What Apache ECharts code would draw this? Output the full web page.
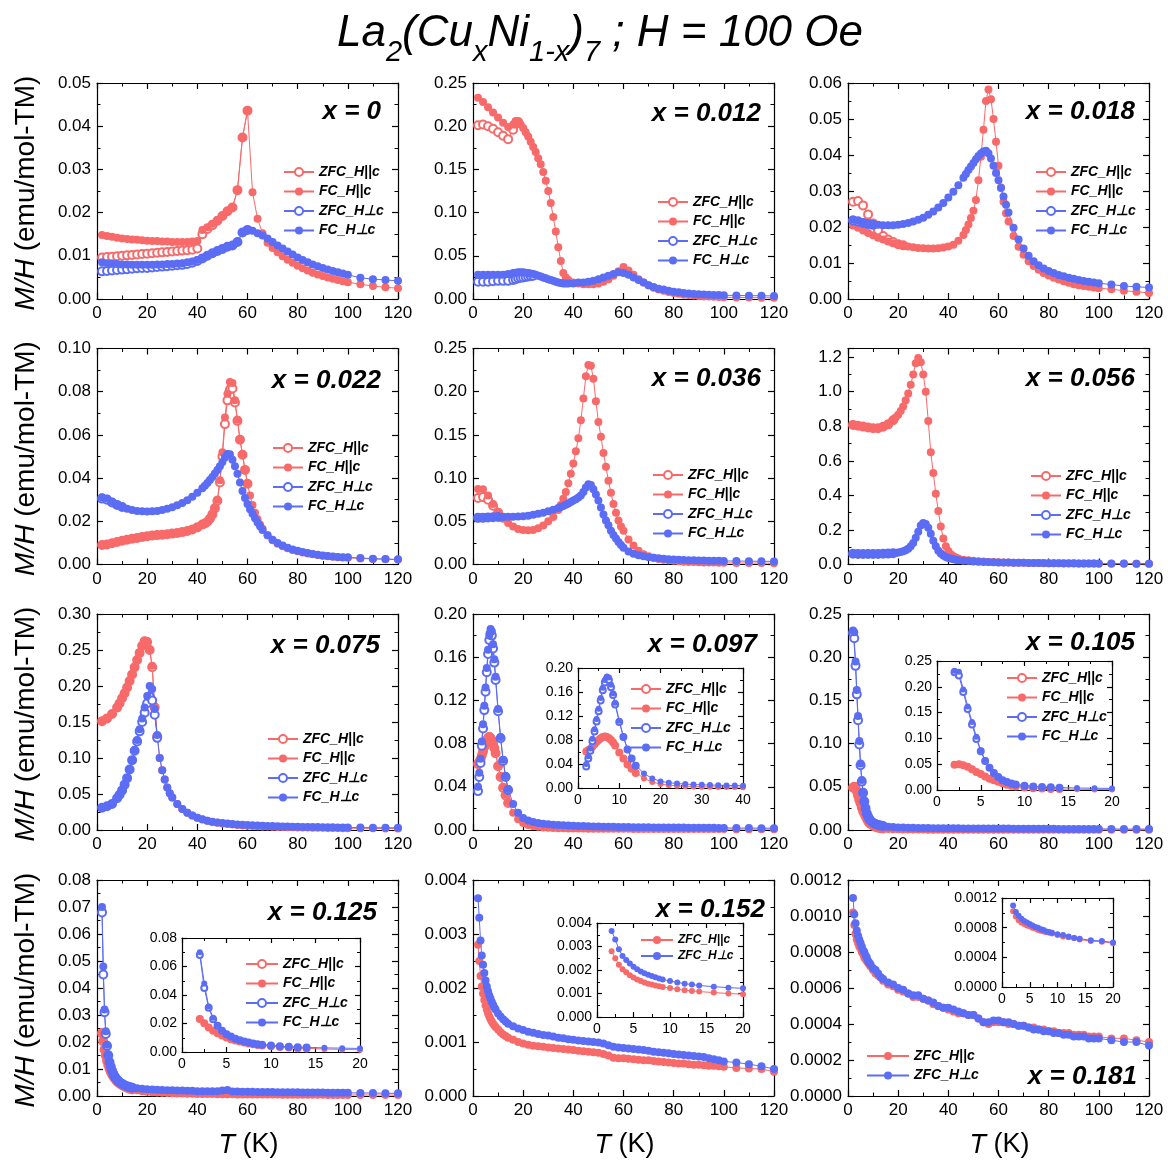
<!DOCTYPE html>
<html><head><meta charset="utf-8">
<script src="https://cdn.jsdelivr.net/npm/echarts/dist/echarts.min.js"></script>
<style>html,body{margin:0;padding:0;background:#fff}#c{width:1168px;height:1162px}</style>
</head><body><div id="c"></div>
<script>
// ---------------- temperature grids (K) ----------------
const T_A = [2,4,6,8,10,12,14,16,18,20,22,24,26,28,30,32,34,36,38,40,42,44,46,48,50,52,54,56,58,60,62,64,66,68,70,72,74,76,78,80,82,84,86,88,90,92,94,96,98,100,105,110,115,120];
const T2 = [2,4,6,8,10,12,14,16,17,18,19,20,21,22,23,24,25,26,27,28,29,30,31,32,33,34,35,36,37,38,40,42,44,46,48,50,52,54,56,58,60,62,64,66,68,70,72,74,76,78,80,82,84,86,88,90,92,94,96,98,100,105,110,115,120];
const T3 = [2,4,6,8,10,12,14,16,18,20,22,24,26,28,30,32,34,36,38,40,42,44,46,47,48,49,50,51,52,53,54,55,56,57,58,59,60,61,62,63,64,66,68,70,72,74,76,78,80,82,84,86,88,90,92,94,96,98,100,105,110,115,120];
const T4 = [2,4,6,8,10,12,14,16,18,20,22,24,26,28,30,32,34,36,38,40,42,43,44,45,46,47,48,49,50,51,52,53,54,55,56,57,58,59,60,61,62,63,64,65,66,68,70,72,74,76,78,80,82,84,86,88,90,92,94,96,98,100,105,110,115,120];
const T5 = [2,4,6,8,10,12,14,16,18,20,22,24,26,28,30,32,34,35,36,37,38,39,40,41,42,43,44,45,46,47,48,49,50,51,52,53,54,55,56,57,58,59,60,62,64,66,68,70,72,74,76,78,80,82,84,86,88,90,92,94,96,98,100,105,110,115,120];
const T6 = [2,4,6,8,10,12,14,16,18,19,20,21,22,23,24,25,26,27,28,29,30,31,32,33,34,35,36,37,38,39,40,41,42,43,44,46,48,50,52,54,56,58,60,62,64,66,68,70,72,74,76,78,80,82,84,86,88,90,92,94,96,98,100,105,110,115,120];
const T7 = [2,4,6,8,9,10,11,12,13,14,15,16,17,18,19,20,21,22,23,24,25,26,27,28,29,30,32,34,36,38,40,42,44,46,48,50,52,54,56,58,60,62,64,66,68,70,72,74,76,78,80,82,84,86,88,90,92,94,96,98,100,105,110,115,120];
const TB = [2,2.5,3,3.5,4,4.5,5,5.5,6,6.5,7,7.5,8,8.5,9,10,11,12,13,14,16,18,20,22,24,26,28,30,32,34,36,38,40,42,44,46,48,50,52,54,56,58,60,62,64,66,68,70,72,74,76,78,80,82,84,86,88,90,92,94,96,98,100,105,110,115,120];

// ---------------- M/H values (emu/mol-TM) ----------------
// x = 0
const x0_zfcPar = [0.0096,0.0097,0.0098,0.0099,0.0100,0.0101,0.0102,0.0103,0.0104,0.0105,0.0106,0.0107,0.0108,0.0109,0.0110,0.0111,0.0112,0.0113,0.0114,0.0117,0.0150,0.0162,0.0171,0.0181,0.0192,0.0203,0.0212,0.0252,0.0374,0.0436];
const x0_fcPar = [0.0148,0.0146,0.0144,0.0142,0.0140,0.0139,0.0138,0.0137,0.0136,0.0135,0.0134,0.0134,0.0133,0.0133,0.0132,0.0132,0.0132,0.0132,0.0133,0.0134,0.0160,0.0166,0.0174,0.0183,0.0193,0.0203,0.0212,0.0252,0.0374,0.0436,0.0247,0.0186,0.0152,0.0130,0.0118,0.0108,0.0099,0.0091,0.0084,0.0077,0.0071,0.0066,0.0061,0.0057,0.0053,0.0050,0.0047,0.0044,0.0041,0.0039,0.0034,0.0030,0.0027,0.0025];
const x0_zfcPerp = [0.0064,0.0065,0.0066,0.0067,0.0068,0.0069,0.0070,0.0071,0.0072,0.0072,0.0073,0.0074,0.0075,0.0076,0.0077,0.0078,0.0079,0.0081,0.0084,0.0088,0.0094,0.0100,0.0106,0.0111,0.0116,0.0121,0.0124,0.0132,0.0154,0.0160];
const x0_fcPerp = [0.0085,0.0083,0.0082,0.0081,0.0080,0.0080,0.0079,0.0079,0.0079,0.0079,0.0079,0.0080,0.0080,0.0081,0.0081,0.0082,0.0083,0.0085,0.0087,0.0090,0.0095,0.0100,0.0106,0.0111,0.0116,0.0121,0.0124,0.0132,0.0154,0.0160,0.0158,0.0152,0.0147,0.0140,0.0132,0.0124,0.0117,0.0110,0.0103,0.0096,0.0090,0.0085,0.0080,0.0076,0.0072,0.0068,0.0065,0.0062,0.0059,0.0056,0.0049,0.0046,0.0044,0.0042];
// x = 0.012
const x012_zfcPar = [0.201,0.202,0.200,0.197,0.193,0.189,0.185,0.196,0.203,0.205];
const x012_fcPar = [0.233,0.228,0.222,0.216,0.210,0.204,0.199,0.202,0.206,0.205,0.202,0.198,0.193,0.188,0.182,0.176,0.170,0.163,0.156,0.147,0.137,0.125,0.111,0.095,0.078,0.060,0.044,0.030,0.025,0.022,0.019,0.018,0.017,0.017,0.017,0.018,0.020,0.023,0.027,0.032,0.037,0.033,0.028,0.023,0.019,0.016,0.013,0.011,0.0095,0.008,0.007,0.006,0.005,0.0045,0.004,0.0035,0.003,0.0028,0.0025,0.0022,0.002,0.0018,0.0016,0.0015,0.0014];
const x012_zfcPerp = [0.020,0.020,0.020,0.0205,0.021,0.021,0.021,0.022,0.023,0.024,0.0245,0.025,0.0255,0.026,0.0265,0.027];
const x012_fcPerp = [0.028,0.028,0.028,0.028,0.028,0.028,0.029,0.030,0.0305,0.031,0.031,0.031,0.0305,0.030,0.0295,0.029,0.028,0.027,0.026,0.025,0.024,0.023,0.022,0.021,0.020,0.019,0.0185,0.018,0.018,0.018,0.018,0.019,0.019,0.020,0.021,0.023,0.025,0.027,0.029,0.031,0.030,0.028,0.025,0.022,0.019,0.016,0.014,0.012,0.011,0.0095,0.0085,0.0077,0.007,0.0064,0.0059,0.0055,0.0052,0.0049,0.0047,0.0045,0.0043,0.0041,0.0039,0.0037,0.0036];
// x = 0.018
const x018_zfcPar = [0.0270,0.0272,0.0260,0.0235,0.0210,0.0190,0.0175,0.0165,0.0158,0.0152,0.0149];
const x018_fcPar = [0.0204,0.0198,0.0190,0.0183,0.0177,0.0170,0.0165,0.0160,0.0155,0.0151,0.0148,0.0146,0.0144,0.0142,0.0141,0.0140,0.0140,0.0141,0.0143,0.0146,0.0151,0.0162,0.0178,0.0192,0.0207,0.0225,0.0245,0.0275,0.0330,0.0395,0.0470,0.0550,0.0582,0.0555,0.0500,0.0437,0.0370,0.0310,0.0270,0.0238,0.0215,0.0175,0.0145,0.0123,0.0105,0.0092,0.0081,0.0072,0.0065,0.0059,0.0054,0.0049,0.0045,0.0041,0.0038,0.0036,0.0034,0.0032,0.0030,0.0027,0.0023,0.0020,0.0017];
const x018_zfcPerp = [0.0218,0.0215,0.0211,0.0208,0.0206];
const x018_fcPerp = [0.0221,0.0218,0.0213,0.0210,0.0207,0.0206,0.0205,0.0205,0.0205,0.0206,0.0208,0.0211,0.0215,0.0220,0.0226,0.0234,0.0243,0.0254,0.0267,0.0282,0.0298,0.0316,0.0337,0.0347,0.0358,0.0368,0.0378,0.0388,0.0397,0.0404,0.0410,0.0412,0.0405,0.0390,0.0370,0.0350,0.0330,0.0308,0.0285,0.0262,0.0240,0.0198,0.0165,0.0140,0.0120,0.0105,0.0094,0.0085,0.0078,0.0072,0.0067,0.0063,0.0059,0.0056,0.0053,0.0050,0.0048,0.0046,0.0044,0.0040,0.0036,0.0034,0.0032];
// x = 0.022
const x022_zfcPar = [0.0090,0.0093,0.0098,0.0104,0.0110,0.0115,0.0119,0.0123,0.0127,0.0131,0.0134,0.0136,0.0138,0.0140,0.0143,0.0146,0.0150,0.0155,0.0162,0.0172,0.0185,0.0190,0.0198,0.0212,0.0232,0.0260,0.0295,0.0380,0.0500,0.0650,0.0760,0.0810,0.0815,0.0750,0.0665,0.0578,0.0508,0.0438,0.0374];
const x022_fcPar = [0.0090,0.0093,0.0098,0.0104,0.0110,0.0115,0.0119,0.0123,0.0127,0.0131,0.0134,0.0136,0.0138,0.0140,0.0143,0.0146,0.0150,0.0155,0.0162,0.0172,0.0185,0.0192,0.0200,0.0215,0.0235,0.0265,0.0300,0.0390,0.0520,0.0680,0.0790,0.0845,0.0840,0.0760,0.0670,0.0580,0.0510,0.0440,0.0375,0.0320,0.0275,0.0240,0.0210,0.0185,0.0165,0.0135,0.0112,0.0096,0.0084,0.0075,0.0067,0.0061,0.0056,0.0051,0.0047,0.0044,0.0041,0.0038,0.0036,0.0034,0.0032,0.0031,0.0028,0.0026,0.0024,0.0023];
const x022_zfcPerp = [0.0305,0.0300,0.0287,0.0276,0.0266];
const x022_fcPerp = [0.0311,0.0305,0.0290,0.0278,0.0268,0.0258,0.0252,0.0248,0.0246,0.0245,0.0246,0.0248,0.0252,0.0258,0.0265,0.0274,0.0285,0.0298,0.0314,0.0332,0.0353,0.0365,0.0377,0.0391,0.0405,0.0421,0.0437,0.0455,0.0475,0.0495,0.0512,0.0510,0.0485,0.0455,0.0420,0.0380,0.0340,0.0308,0.0280,0.0256,0.0235,0.0214,0.0195,0.0177,0.0160,0.0135,0.0115,0.0100,0.0088,0.0078,0.0070,0.0064,0.0058,0.0053,0.0049,0.0045,0.0042,0.0039,0.0037,0.0035,0.0034,0.0033,0.0030,0.0027,0.0025,0.0024];
// x = 0.036
const x036_zfcPar = [0.077,0.078,0.075,0.068,0.060,0.054];
const x036_fcPar = [0.0873,0.0870,0.0800,0.0700,0.0610,0.0540,0.0480,0.0440,0.0410,0.0400,0.0395,0.0400,0.0420,0.0450,0.0500,0.0550,0.0630,0.0690,0.0760,0.0840,0.0940,0.1050,0.1170,0.1310,0.1460,0.1670,0.1920,0.2180,0.2310,0.2300,0.2150,0.1890,0.1650,0.1480,0.1290,0.1130,0.0970,0.0830,0.0700,0.0600,0.0510,0.0440,0.0390,0.029,0.022,0.016,0.012,0.0095,0.0078,0.0065,0.0055,0.0048,0.0042,0.0037,0.0033,0.0030,0.0028,0.0026,0.0024,0.0023,0.0022,0.0021,0.0020,0.0018,0.0017,0.0016,0.0015];
const x036_zfcPerp = [0.054,0.054,0.0545,0.0548,0.055];
const x036_fcPerp = [0.0550,0.0550,0.0550,0.0550,0.0550,0.0550,0.0552,0.0554,0.0556,0.0558,0.0565,0.0575,0.0588,0.0600,0.0615,0.0635,0.0655,0.0665,0.0678,0.0692,0.0706,0.0722,0.0740,0.0756,0.0775,0.0800,0.0840,0.0890,0.0930,0.0920,0.0870,0.0810,0.0740,0.0660,0.0580,0.0510,0.0455,0.0390,0.0340,0.0300,0.0260,0.0225,0.0195,0.0150,0.0125,0.0108,0.0095,0.0085,0.0078,0.0072,0.0067,0.0062,0.0058,0.0055,0.0052,0.0050,0.0048,0.0046,0.0045,0.0044,0.0043,0.0042,0.0041,0.0040,0.0038,0.0037,0.0036];
// x = 0.056
const x056_zfcPar = [0.808,0.803,0.798,0.793,0.789,0.789,0.797,0.811,0.835];
const x056_fcPar = [0.810,0.805,0.800,0.795,0.790,0.790,0.798,0.812,0.836,0.850,0.866,0.888,0.914,0.950,0.990,1.040,1.100,1.165,1.195,1.170,1.100,1.000,0.830,0.650,0.530,0.410,0.310,0.220,0.150,0.105,0.078,0.060,0.048,0.040,0.034,0.028,0.024,0.021,0.019,0.017,0.015,0.014,0.013,0.012,0.011,0.0105,0.010,0.0095,0.009,0.0085,0.008,0.0077,0.0074,0.0071,0.0068,0.0065,0.0062,0.0060,0.0058,0.0056,0.0054,0.0052,0.0050,0.0048,0.0046,0.0044,0.0042];
const x056_zfcPerp = [0.062,0.061,0.061,0.061,0.061,0.061,0.062,0.063,0.065];
const x056_fcPerp = [0.063,0.062,0.062,0.062,0.062,0.062,0.063,0.064,0.066,0.067,0.069,0.072,0.077,0.083,0.091,0.105,0.125,0.155,0.190,0.225,0.240,0.235,0.212,0.178,0.138,0.105,0.080,0.063,0.052,0.044,0.038,0.034,0.030,0.027,0.025,0.022,0.020,0.018,0.016,0.015,0.014,0.013,0.012,0.0115,0.011,0.0105,0.010,0.0095,0.009,0.0087,0.0084,0.0081,0.0078,0.0075,0.0072,0.0070,0.0068,0.0066,0.0064,0.0062,0.0060,0.0058,0.0056,0.0054,0.0052,0.0050,0.0048];
// x = 0.075
const x075_zfcPar = [0.151,0.155,0.161,0.170,0.176,0.183,0.190,0.198,0.207,0.216,0.226,0.236,0.246,0.256,0.262,0.261,0.250,0.226,0.170,0.130];
const x075_fcPar = [0.151,0.155,0.161,0.170,0.176,0.183,0.190,0.198,0.207,0.216,0.226,0.236,0.246,0.256,0.263,0.262,0.251,0.228,0.172,0.130,0.100,0.083,0.070,0.059,0.051,0.045,0.036,0.029,0.024,0.020,0.017,0.0145,0.0127,0.0112,0.0100,0.0090,0.0082,0.0075,0.0069,0.0064,0.0060,0.0056,0.0053,0.0050,0.0047,0.0045,0.0043,0.0041,0.0039,0.0037,0.0036,0.0034,0.0033,0.0032,0.0031,0.0030,0.0029,0.0028,0.0027,0.0026,0.0025,0.0024,0.0023,0.0022,0.0021];
const x075_zfcPerp = [0.031,0.033,0.036,0.044,0.049,0.055,0.063,0.072,0.084,0.097,0.110,0.123,0.137,0.150,0.163,0.176,0.185,0.180,0.160,0.128];
const x075_fcPerp = [0.031,0.033,0.036,0.044,0.049,0.055,0.063,0.072,0.084,0.097,0.111,0.125,0.140,0.155,0.170,0.186,0.200,0.196,0.168,0.132,0.100,0.083,0.070,0.059,0.051,0.045,0.036,0.029,0.024,0.020,0.017,0.0148,0.0130,0.0116,0.0105,0.0096,0.0089,0.0083,0.0078,0.0073,0.0069,0.0065,0.0062,0.0059,0.0056,0.0054,0.0052,0.0050,0.0048,0.0046,0.0045,0.0043,0.0042,0.0041,0.0040,0.0039,0.0038,0.0037,0.0036,0.0035,0.0034,0.0033,0.0032,0.0031,0.0030];
// x = 0.097
const x097_zfcPar = [0.061,0.063,0.065,0.069,0.073,0.077,0.080,0.083,0.085,0.086,0.085,0.083,0.080,0.076,0.071,0.059,0.049,0.039,0.032,0.025];
const x097_fcPar = [0.062,0.064,0.066,0.070,0.074,0.078,0.081,0.084,0.086,0.087,0.086,0.084,0.081,0.077,0.072,0.060,0.050,0.040,0.033,0.026,0.016,0.010,0.0065,0.0047,0.0036,0.0029,0.0024,0.0021,0.0019,0.0017,0.0016,0.0015,0.0014,0.00135,0.0013,0.00125,0.0012,0.00118,0.00116,0.00114,0.00112,0.0011,0.00108,0.00106,0.00104,0.00102,0.001,0.00099,0.00098,0.00097,0.00096,0.00095,0.00094,0.00093,0.00092,0.00091,0.0009,0.00089,0.00088,0.00087,0.00086,0.00085,0.00084,0.0008,0.00078,0.00076,0.00074];
const x097_zfcPerp = [0.036,0.049,0.062,0.078,0.094,0.111,0.128,0.146,0.163,0.176,0.182,0.180,0.168,0.155,0.139,0.110,0.085,0.064,0.049,0.037];
const x097_fcPerp = [0.040,0.053,0.066,0.082,0.098,0.115,0.132,0.150,0.167,0.180,0.186,0.184,0.172,0.158,0.142,0.112,0.086,0.065,0.050,0.038,0.024,0.016,0.011,0.0088,0.0074,0.0065,0.0058,0.0053,0.0049,0.0046,0.0043,0.0041,0.0039,0.0037,0.0036,0.0034,0.0033,0.0032,0.0031,0.003,0.0029,0.0028,0.0028,0.0027,0.0026,0.0026,0.0025,0.0025,0.0024,0.0024,0.0023,0.0023,0.0022,0.0022,0.0022,0.0021,0.0021,0.0021,0.002,0.002,0.002,0.0019,0.0019,0.0018,0.0018,0.0017,0.0017];
// x = 0.105
const x105_zfcPar = [0.049,0.050,0.048,0.045,0.040,0.035,0.031,0.026,0.022,0.019,0.016,0.013,0.0103,0.0083,0.0069,0.0049,0.0036,0.0027,0.0021,0.0017];
const x105_fcPar = [0.050,0.051,0.049,0.046,0.041,0.036,0.031,0.027,0.023,0.019,0.016,0.013,0.0105,0.0085,0.007,0.005,0.0037,0.0028,0.0022,0.0018,0.0013,0.001,0.0008,0.0007,0.0006,0.00055,0.0005,0.00046,0.00043,0.0004,0.00038,0.00036,0.00034,0.00033,0.00032,0.00031,0.0003,0.00029,0.00028,0.00027,0.00026,0.00025,0.00025,0.00024,0.00024,0.00023,0.00023,0.00022,0.00022,0.00021,0.00021,0.0002,0.0002,0.0002,0.00019,0.00019,0.00019,0.00018,0.00018,0.00018,0.00017,0.00017,0.00017,0.00016,0.00016,0.00015,0.00015];
const x105_zfcPerp = [0.228,0.222,0.190,0.157,0.127,0.099,0.075,0.056,0.043,0.033,0.025,0.019,0.0155,0.0126,0.0107,0.0083,0.0068,0.0058,0.0051,0.0046];
const x105_fcPerp = [0.231,0.229,0.195,0.162,0.132,0.103,0.077,0.058,0.044,0.034,0.026,0.020,0.016,0.013,0.011,0.0085,0.007,0.006,0.0052,0.0047,0.0039,0.0034,0.003,0.0028,0.0026,0.0025,0.0024,0.0023,0.0022,0.0021,0.0021,0.002,0.002,0.0019,0.0019,0.0018,0.0018,0.0018,0.0017,0.0017,0.0017,0.0016,0.0016,0.0016,0.0016,0.0015,0.0015,0.0015,0.0015,0.0014,0.0014,0.0014,0.0014,0.0014,0.0013,0.0013,0.0013,0.0013,0.0013,0.0012,0.0012,0.0012,0.0012,0.0012,0.0011,0.0011,0.0011];
// x = 0.125
const x125_zfcPar = [0.0232,0.0202,0.0172,0.015,0.0131,0.0115,0.0101,0.009,0.0081,0.0073,0.0066,0.006,0.0055,0.005,0.0046,0.004,0.0035,0.0031,0.0027,0.0024];
const x125_fcPar = [0.0235,0.0205,0.0175,0.0152,0.0133,0.0117,0.0103,0.0092,0.0082,0.0074,0.0067,0.0061,0.0056,0.0051,0.0047,0.0041,0.0036,0.0032,0.0028,0.0025,0.0021,0.0018,0.0016,0.0014,0.0013,0.0012,0.0011,0.001,0.00095,0.0009,0.00085,0.0008,0.00078,0.00075,0.00072,0.0007,0.00068,0.00066,0.00064,0.00062,0.0006,0.00058,0.00057,0.00056,0.00055,0.00054,0.00053,0.00052,0.00051,0.0005,0.00049,0.00048,0.00047,0.00046,0.00045,0.00044,0.00043,0.00042,0.00041,0.0004,0.0004,0.00039,0.00039,0.00038,0.00037,0.00036,0.00035];
const x125_zfcPerp = [0.068,0.045,0.031,0.023,0.0185,0.015,0.0125,0.0108,0.0093,0.0082,0.0073,0.0066,0.006,0.0055,0.0051,0.0045,0.004,0.0036,0.0033,0.0031];
const x125_fcPerp = [0.070,0.048,0.032,0.024,0.019,0.0155,0.0128,0.011,0.0095,0.0083,0.0074,0.0067,0.0061,0.0056,0.0052,0.0046,0.0041,0.0037,0.0034,0.0032,0.0029,0.0027,0.0025,0.0024,0.0023,0.0022,0.0021,0.0021,0.002,0.002,0.0019,0.0019,0.0018,0.0018,0.0018,0.0018,0.0018,0.002,0.0022,0.0017,0.0017,0.0016,0.0016,0.0016,0.0015,0.0015,0.0015,0.0015,0.0014,0.0014,0.0014,0.0014,0.0014,0.0013,0.0013,0.0013,0.0013,0.0013,0.0012,0.0012,0.0012,0.0012,0.0012,0.0011,0.0011,0.001,0.001];
// x = 0.152
const x152_par = [0.0028,0.0025,0.00222,0.00203,0.0019,0.00178,0.00168,0.0016,0.00153,0.00147,0.00142,0.00138,0.00134,0.00131,0.00128,0.00123,0.00118,0.00114,0.00111,0.00108,0.00104,0.001,0.00097,0.00095,0.00093,0.00092,0.00091,0.0009,0.00089,0.00088,0.00087,0.00086,0.00085,0.00084,0.00083,0.00082,0.00081,0.0008,0.00078,0.00075,0.00071,0.0007,0.0007,0.00069,0.00068,0.00067,0.00066,0.00066,0.00065,0.00064,0.00063,0.00062,0.00061,0.0006,0.0006,0.00059,0.00058,0.00058,0.00057,0.00056,0.00056,0.00055,0.00054,0.00052,0.00051,0.0005,0.00045];
const x152_perp = [0.00366,0.00330,0.00288,0.00260,0.00243,0.00228,0.00214,0.00203,0.00194,0.00186,0.00180,0.00174,0.00169,0.00164,0.00160,0.00153,0.00147,0.00142,0.00138,0.00134,0.00129,0.00125,0.00122,0.00119,0.00117,0.00115,0.00113,0.00112,0.0011,0.00108,0.00107,0.00105,0.00104,0.00103,0.00102,0.00101,0.001,0.00099,0.00097,0.00094,0.00091,0.0009,0.00089,0.00088,0.00087,0.00086,0.00085,0.00084,0.00082,0.00081,0.0008,0.00079,0.00078,0.00077,0.00076,0.00075,0.00074,0.00073,0.00072,0.0007,0.00068,0.00066,0.00064,0.00062,0.00059,0.00055,0.0005];
// x = 0.181
const x181_par = [0.00102,0.00095,0.0009,0.00087,0.00085,0.00083,0.00082,0.0008,0.00079,0.00077,0.00076,0.00075,0.00074,0.00073,0.00072,0.0007,0.00068,0.00067,0.00066,0.00064,0.00062,0.00061,0.00059,0.00058,0.00057,0.00055,0.00055,0.00054,0.00053,0.00051,0.0005,0.00049,0.00048,0.00047,0.00046,0.00046,0.00045,0.00045,0.00043,0.00041,0.0004,0.00041,0.00041,0.00041,0.0004,0.0004,0.00039,0.00039,0.00038,0.00038,0.00037,0.00037,0.00036,0.00036,0.00035,0.00035,0.00035,0.00034,0.00034,0.00034,0.00033,0.00033,0.00033,0.00032,0.00032,0.00031,0.0003];
const x181_perp = [0.0011,0.00101,0.00096,0.00092,0.00089,0.00087,0.00085,0.00083,0.00081,0.0008,0.00078,0.00077,0.00075,0.00074,0.00073,0.00071,0.0007,0.00068,0.00066,0.00065,0.00063,0.00062,0.0006,0.00059,0.00057,0.00056,0.00056,0.00054,0.00053,0.00052,0.0005,0.00049,0.00049,0.00048,0.00047,0.00046,0.00045,0.00045,0.00043,0.00041,0.00041,0.00042,0.00042,0.00041,0.00041,0.0004,0.00039,0.00039,0.00038,0.00037,0.00037,0.00036,0.00036,0.00035,0.00035,0.00034,0.00034,0.00033,0.00033,0.00033,0.00032,0.00032,0.00032,0.00031,0.0003,0.0003,0.00028];

const SERIES_NAMES = ['ZFC_H||c','FC_H||c','ZFC_H\u22a5c','FC_H\u22a5c'];
const SERIES_NAMES2 = ['ZFC_H||c ','ZFC_H\u22a5c '];
const PANEL_LABELS = ['x = 0','x = 0.012','x = 0.018','x = 0.022','x = 0.036','x = 0.056','x = 0.075','x = 0.097','x = 0.105','x = 0.125','x = 0.152','x = 0.181'];
const X_TICKS = [0,120,20,0];

// ---------------- layout / style ----------------
const FONT = "'Liberation Sans', Arial, Helvetica, sans-serif";
const RED = '#f86a6a', BLUE = '#5b6cf5';
const COLS = [97,473,848], ROWS = [83,348.5,614,880], PW = 301, PH = 216;

const panels = [
 {T:T_A, d:[x0_zfcPar,x0_fcPar,x0_zfcPerp,x0_fcPerp], y:[0,0.05,0.01,2], lp:[381,112], lg:[283,165,30]},
 {T:T2, d:[x012_zfcPar,x012_fcPar,x012_zfcPerp,x012_fcPerp], y:[0,0.25,0.05,2], lp:[761,114], lg:[657,195,30]},
 {T:T3, d:[x018_zfcPar,x018_fcPar,x018_zfcPerp,x018_fcPerp], y:[0,0.06,0.01,2], lp:[1135,112], lg:[1035,165,30]},
 {T:T4, d:[x022_zfcPar,x022_fcPar,x022_zfcPerp,x022_fcPerp], y:[0,0.10,0.02,2], lp:[381,381], lg:[272,441,30]},
 {T:T5, d:[x036_zfcPar,x036_fcPar,x036_zfcPerp,x036_fcPerp], y:[0,0.25,0.05,2], lp:[761,379], lg:[652,468,30]},
 {T:T6, d:[x056_zfcPar,x056_fcPar,x056_zfcPerp,x056_fcPerp], y:[0,1.25,0.2,1,false], lp:[1135,379], lg:[1030,469,30]},
 {T:T7, d:[x075_zfcPar,x075_fcPar,x075_zfcPerp,x075_fcPerp], y:[0,0.30,0.05,2], lp:[380,646], lg:[267,732,30]},
 {T:TB, d:[x097_zfcPar,x097_fcPar,x097_zfcPerp,x097_fcPerp], y:[0,0.20,0.04,2], lp:[757,645], lg:[630,682,30],
   inset:{r:[578,668,165,120], x:[0,40,10,0], y:[0,0.20,0.04,2]}},
 {T:TB, d:[x105_zfcPar,x105_fcPar,x105_zfcPerp,x105_fcPerp], y:[0,0.25,0.05,2], lp:[1135,643], lg:[1006,671,30],
   inset:{r:[937,661,175,129], x:[0,20,5,0], y:[0,0.25,0.05,2]}},
 {T:TB, d:[x125_zfcPar,x125_fcPar,x125_zfcPerp,x125_fcPerp], y:[0,0.08,0.01,2], lp:[377,913], lg:[245,957,32],
   inset:{r:[182,938,178,114], x:[0,20,5,0], y:[0,0.08,0.02,2]}},
 {T:TB, d:[x152_par,x152_perp], two:true, y:[0,0.004,0.001,3], lp:[765,910], lg:[640,934,32,12],
   inset:{r:[597,923,146,94], x:[0,20,5,0], y:[0,0.004,0.001,3]}},
 {T:TB, d:[x181_par,x181_perp], two:true, y:[0,0.0012,0.0002,4], lp:[1137,1077], lg:[866,1049,42],
   inset:{r:[1002,898,111,89], x:[0,20,5,0], y:[0,0.0012,0.0004,4]}}
];

const grid=[], xAxis=[], yAxis=[], series=[], legend=[], graphic=[];

function addAxes(rect, xr, yr, fs, z, bg){
  const gi = grid.length;
  grid.push({left:rect[0], top:rect[1], width:rect[2], height:rect[3], containLabel:false, z:z,
    show: !!bg, backgroundColor: bg || 'transparent', borderWidth:0});
  const lineS = {color:'#000', width:1.2};
  const big = fs > 15;
  const mk = (pos, r, lab) => ({
    type:'value', gridIndex:gi, position:pos, min:r[0], max:r[1], interval:r[2],
    axisLine:{show:true, onZero:false, lineStyle:lineS},
    axisTick:{show:true, inside:true, length: big?6:5, lineStyle:lineS},
    minorTick:{show:true, splitNumber:2, length: big?3.5:3, lineStyle:{color:'#000', width:1}},
    splitLine:{show:false},
    axisLabel:{show:lab, color:'#000', fontSize:fs, fontFamily:FONT, margin: big?6:5,
      showMaxLabel: r[4]===undefined ? true : r[4], formatter: v => (+v).toFixed(r[3])},
    z: z+1, silent:true
  });
  const xi = xAxis.length, yi = yAxis.length;
  xAxis.push(mk('bottom', xr, true), mk('top', xr, false));
  yAxis.push(mk('left', yr, true), mk('right', yr, false));
  return {xi, yi};
}

function addSeries(ax, name, color, filled, T, vals, z, clip, size){
  series.push({type:'line', name, xAxisIndex:ax.xi, yAxisIndex:ax.yi,
    data: vals.map((v,i)=>[T[i], v]),
    symbol: filled ? 'circle' : 'emptyCircle', symbolSize:size, showSymbol:true,
    lineStyle:{color, width:1}, itemStyle:{color, borderColor:color, borderWidth: filled?0:1.1},
    emphasis:{disabled:true}, clip, z, animation:false, silent:true});
}

function addPanelSeries(p, ax, z, clip, size){
  if (p.two){
    addSeries(ax, SERIES_NAMES2[0], RED, true, p.T, p.d[0], z, clip, size);
    addSeries(ax, SERIES_NAMES2[1], BLUE, true, p.T, p.d[1], z, clip, size);
  } else {
    addSeries(ax, SERIES_NAMES[0], RED, false, p.T, p.d[0], z, clip, size);
    addSeries(ax, SERIES_NAMES[1], RED, true, p.T, p.d[1], z, clip, size);
    addSeries(ax, SERIES_NAMES[2], BLUE, false, p.T, p.d[2], z, clip, size);
    addSeries(ax, SERIES_NAMES[3], BLUE, true, p.T, p.d[3], z, clip, size);
  }
}

panels.forEach((p, k) => {
  const c = k % 3, r = Math.floor(k / 3);
  const ax = addAxes([COLS[c], ROWS[r], PW, PH], X_TICKS, p.y, 17, 0, null);
  addPanelSeries(p, ax, 2, false, 8);
  if (p.inset){
    const ia = addAxes(p.inset.r, p.inset.x, p.inset.y, 14, 4, '#fff');
    addPanelSeries(p, ia, 6, true, 6);
  }
  const fsL = p.lg[3] || 14;
  legend.push({data:(p.two?SERIES_NAMES2:SERIES_NAMES).slice(), orient:'vertical', left:p.lg[0], top:p.lg[1],
    itemWidth:p.lg[2], itemHeight:10, itemGap: fsL<14?4:5.5, padding:0, selectedMode:false, z:10,
    textStyle:{fontFamily:FONT, fontSize:fsL, fontStyle:'italic', fontWeight:'bold', color:'#000'}});
  graphic.push({type:'text', x:p.lp[0], y:p.lp[1], z:20, silent:true,
    style:{text:PANEL_LABELS[k], font:`italic bold 26px ${FONT}`, fill:'#000',
      align:'right', verticalAlign:'middle', textAlign:'right', textVerticalAlign:'middle'}});
});

// axis titles
ROWS.forEach(top => graphic.push({type:'text', x:26, y:top+PH/2+2, rotation:Math.PI/2, z:20, silent:true,
  style:{text:'{i|M/H}{n| (emu/mol-TM)}', align:'center', verticalAlign:'middle', textAlign:'center', textVerticalAlign:'middle',
    rich:{i:{fontStyle:'italic', fontSize:28, fontFamily:FONT, fill:'#000', color:'#000'},
          n:{fontSize:28, fontFamily:FONT, fill:'#000', color:'#000'}}}}));
COLS.forEach(left => graphic.push({type:'text', x:left+PW/2+1, y:1145, z:20, silent:true,
  style:{text:'{i|T}{n| (K)}', align:'center', verticalAlign:'middle', textAlign:'center', textVerticalAlign:'middle',
    rich:{i:{fontStyle:'italic', fontSize:27, fontFamily:FONT, fill:'#000', color:'#000'},
          n:{fontSize:27, fontFamily:FONT, fill:'#000', color:'#000'}}}}));

// main title with subscripts
(function(){
  const BIG = 44, SMALL = 29, BASE = 49, SUBBASE = 63;
  const pieces = [['La',0],['2',1],['(Cu',0],['x',1],['Ni',0],['1-x',1],[')',0],['7',1],[' ; H = 100 Oe',0]];
  const ctx = document.createElement('canvas').getContext('2d');
  const fontOf = s => `italic ${s?SMALL:BIG}px ${FONT}`;
  let W = 0; const ws = pieces.map(([t,s]) => { ctx.font = fontOf(s); const w = ctx.measureText(t).width; W += w; return w; });
  let x = 600 - W/2;
  pieces.forEach(([t,s], i) => {
    const fs = s?SMALL:BIG, base = s?SUBBASE:BASE;
    graphic.push({type:'text', x:x, y: base - 0.3465*fs, z:20, silent:true,
      style:{text:t, font:fontOf(s), fill:'#000', align:'left', verticalAlign:'middle', textAlign:'left', textVerticalAlign:'middle'}});
    x += ws[i];
  });
})();

const chart = echarts.init(document.getElementById('c'), null, {renderer:'canvas', width:1168, height:1162});
chart.setOption({animation:false, backgroundColor:'#fff', grid, xAxis, yAxis, series, legend, graphic});
</script></body></html>
